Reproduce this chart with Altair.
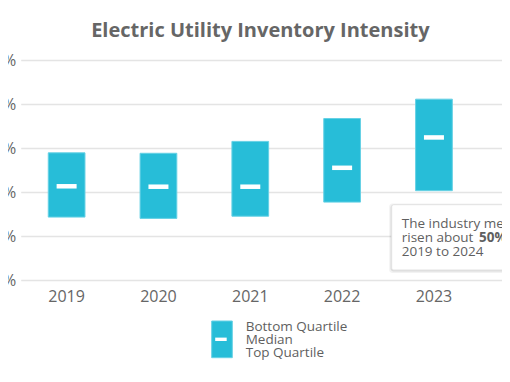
import altair as alt
import pandas as pd

years = ["2019", "2020", "2021", "2022", "2023", "2024"]
bottom_quartile = [2.89, 2.88, 3.15, 3.67, 4.11, 4.45]
median = [2.13, 2.12, 2.12, 2.55, 3.24, 3.30]
top_quartile = [1.43, 1.40, 1.45, 1.77, 2.03, 2.05]
y_ticks = [0, 1, 2, 3, 4, 5]

legend_labels = ["Bottom Quartile", "Median", "Top Quartile"]
note_lines = ["The industry median has", "risen about ", "50%", " from", "2019 to 2024"]

FONT = "Open Sans"
BAR = "#27bdd8"
BAR_EDGE = "#66d1e5"
GRAY = "#666666"

df = pd.DataFrame({
    "year": years,
    "bq": bottom_quartile,
    "med": median,
    "tq": top_quartile,
})

x = alt.X("year:N", sort=years,
          scale=alt.Scale(range=[0, 551], paddingInner=0.6, paddingOuter=0.3),
          axis=alt.Axis(title=None, labelAngle=0, ticks=False, domain=False,
                        labelFont=FONT, labelFontSize=16, labelColor=GRAY,
                        labelPadding=8, grid=False, labelOverlap=False))
y = alt.Y("tq:Q", scale=alt.Scale(domain=[0, 5], nice=False, zero=True),
          axis=alt.Axis(title=None, values=y_ticks, labelExpr="datum.value + '%'",
                        ticks=False, domain=False, grid=True, gridColor="#e4e4e4",
                        gridWidth=1.5, labelFont=FONT, labelFontSize=16,
                        labelColor=GRAY, labelPadding=5))

bars = alt.Chart(df).mark_bar(color=BAR, stroke=BAR_EDGE, strokeWidth=1).encode(
    x=x, y=y, y2="bq:Q")

ticks = alt.Chart(df).mark_tick(color="white", opacity=1, thickness=4.5, size=20).encode(
    x=alt.X("year:N", sort=years), y="med:Q")

one = pd.DataFrame({"k": [0]})

# annotation box (shadow + box)
shadow2 = alt.Chart(one).mark_rect(color="#000000", opacity=0.05, cornerRadius=3).encode(
    x=alt.value(368.5), x2=alt.value(600), y=alt.value(143.5), y2=alt.value(213))
shadow1 = alt.Chart(one).mark_rect(color="#000000", opacity=0.09, cornerRadius=3).encode(
    x=alt.value(369.8), x2=alt.value(600), y=alt.value(144.8), y2=alt.value(211.6))
box = alt.Chart(one).mark_rect(color="white", stroke="#e2e2e2", strokeWidth=1, cornerRadius=2).encode(
    x=alt.value(371), x2=alt.value(600), y=alt.value(144.7), y2=alt.value(210))

def txt(s, xv, yv, size=13.5, weight="normal", color="#5f5f5f", align="left"):
    return alt.Chart(one).mark_text(font=FONT, fontSize=size, fontWeight=weight,
                                    color=color, align=align, baseline="middle").encode(
        x=alt.value(xv), y=alt.value(yv), text=alt.value(s))

note = (txt(note_lines[0], 381, 164.3) + txt(note_lines[1], 381, 178.3)
        + txt(note_lines[2], 458.3, 178.3, weight="bold") + txt(note_lines[3], 487, 178.3)
        + txt(note_lines[4], 381, 192.3))

# custom legend
leg_rect = alt.Chart(one).mark_rect(color=BAR, stroke=BAR_EDGE, strokeWidth=1).encode(
    x=alt.value(191), x2=alt.value(211.6), y=alt.value(261), y2=alt.value(297.7))
leg_dash = alt.Chart(one).mark_rect(color="white").encode(
    x=alt.value(194.5), x2=alt.value(206), y=alt.value(277.6), y2=alt.value(281))
leg_text = (txt(legend_labels[0], 225, 267) + txt(legend_labels[1], 225, 280)
            + txt(legend_labels[2], 225, 293))

chart = alt.layer(bars, ticks, shadow2, shadow1, box, note, leg_rect, leg_dash, leg_text).properties(
    width=481.3, height=220,
    title=alt.Title("Electric Utility Inventory Intensity", font=FONT, fontSize=20,
                    fontWeight="bold", color=GRAY, anchor="middle", dx=-1, offset=11),
    autosize=alt.AutoSizeParams(type="none"),
    padding={"left": 12.7, "top": 52, "right": 0, "bottom": 80},
).configure_view(stroke=None)

chart.save("out.html", embed_options={"renderer": "svg", "actions": False})
